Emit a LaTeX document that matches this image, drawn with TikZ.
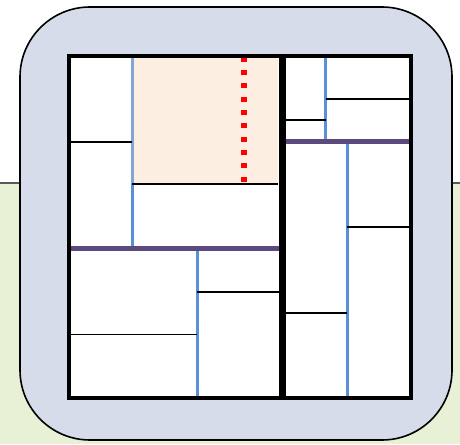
\documentclass[tikz,border=0pt]{standalone}
\usetikzlibrary{positioning}

\definecolor{panel}{RGB}{214,220,233}
\definecolor{lawn}{RGB}{232,240,214}
\definecolor{peach}{RGB}{252,238,224}
\definecolor{splitblue}{RGB}{91,143,214}
\definecolor{paleblue}{RGB}{130,165,214}
\definecolor{joint}{RGB}{92,74,126}

\begin{document}
\begin{tikzpicture}[x=1pt, y=-1pt, cut/.style={black, line width=1.6pt}, split/.style={splitblue, line width=3pt}, seam/.style={joint, line width=5pt}, frame/.style={black, line width=4pt}]
\useasboundingbox (0,0) rectangle (460,444);

% backdrop and rounded panel
\fill[lawn] (0,183) rectangle (460,444);
\draw[black!65, line width=1.2pt] (0,183) -- (460,183);
\draw[fill=panel, line width=1.6pt, rounded corners=70pt] (20,7) rectangle (452,440);

% sheet and highlighted cell
\fill[white] (68.5,56) rectangle (411,398);
\fill[peach] (132,56) rectangle (278,184);

% left half
\draw[paleblue, line width=3pt] (132,56) -- (132,184);
\draw[split] (132,184) -- (132,248);
\draw[cut] (68.5,142) -- (132,142);
\draw[cut] (132,184) -- (278,184);
\draw[red, line width=5.7pt, dash pattern=on 5pt off 8.33pt] (244,56.7) -- (244,183);
\draw[split] (197,248) -- (197,398);
\draw[cut] (197,292) -- (279,292);
\draw[cut] (68.5,334.5) -- (197,334.5);
\draw[seam] (68.5,248.5) -- (282,248.5);

% right half
\draw[split] (325.5,56) -- (325.5,141.5);
\draw[cut] (325.5,99) -- (411,99);
\draw[cut] (286,120) -- (325.5,120);
\draw[split] (347,141.5) -- (347,398);
\draw[cut] (347,227) -- (411,227);
\draw[cut] (286,313) -- (347,313);
\draw[seam] (283,141.5) -- (411,141.5);

% divider and outer frame
\draw[black, line width=7pt] (282.5,56) -- (282.5,398);
\draw[frame] (68.5,56) rectangle (411,398);
\end{tikzpicture}
\end{document}
